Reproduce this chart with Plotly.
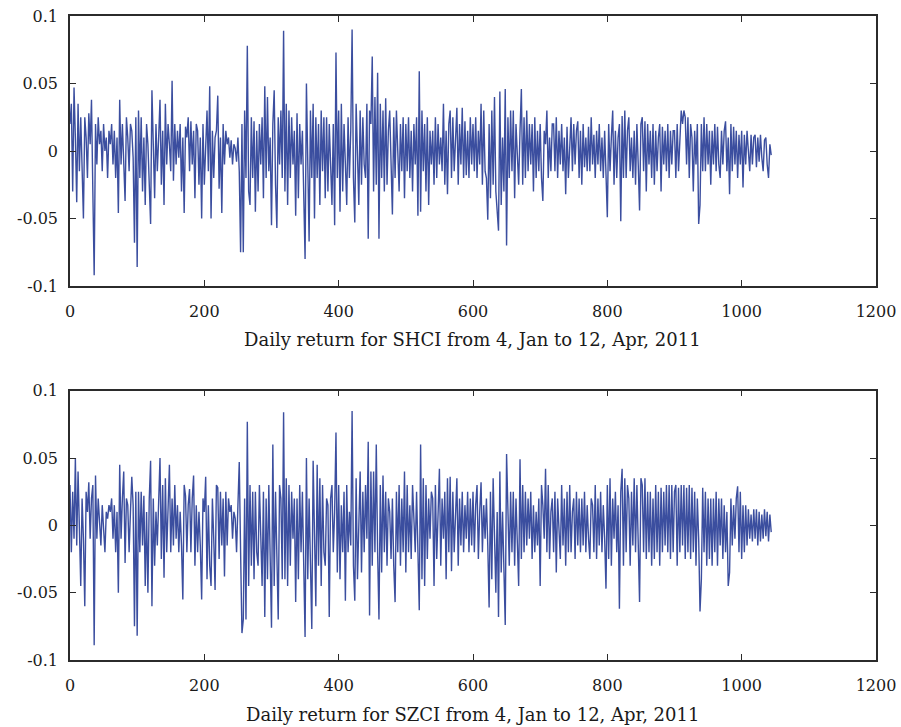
import numpy as np
import plotly.graph_objects as go

# Daily returns (in thousandths), one sample every 2 trading days
shci_milli = [
    20, 35, -30, 47, 10, -38, 35, -15, 25, -10,
    -50, 25, 10, -20, 28, 5, 38, -30, -92, 20,
    -10, 25, 5, 15, -15, 20, 0, 10, -20, 15,
    5, 20, -10, 15, -20, 10, -46, 38, -10, 20,
    -5, -37, 25, 10, -15, 20, 15, -5, -68, 25,
    -86, 30, -20, 25, -30, 10, -40, 20, 5, -25,
    -54, 45, -10, -35, 20, -15, 10, 38, -25, 15,
    -40, 35, -10, 20, 5, -15, 52, -22, 20, -10,
    15, -5, 20, -30, 10, -46, 18, 10, 25, -15,
    22, -10, 15, -35, 20, 15, -25, 10, -50, 20,
    -25, 10, 30, -15, 48, -50, 15, -20, 10, 15,
    41, -28, 10, -46, 20, -10, 15, 5, 10, -5,
    8, -10, 5, 2, -8, 10, -15, -75, 20, -75,
    30, -20, 78, -30, -40, 25, -20, 22, -45, 15,
    -30, 20, -10, 25, -35, 48, -20, 40, -15, 10,
    -55, 20, 45, -25, -57, 25, -10, 30, -20, 89,
    -30, 35, -40, 30, -20, 25, -10, 15, -48, 28,
    -35, 20, -10, 15, -25, -80, 50, -20, -67, 30,
    -20, 35, -50, 25, -20, 20, -40, 30, -15, 25,
    -35, 25, -30, 20, -10, -40, 20, -55, 73, -20,
    30, -45, 35, -30, 20, -10, -40, 25, -20, 15,
    90, -20, -53, 35, -15, -40, 30, -25, 25, -10,
    -20, 35, -65, 30, 20, 70, -30, 40, -25, 58,
    -65, 35, -20, 30, -30, 39, -25, 15, 30, -10,
    -47, 25, -20, 30, -10, -30, 20, -15, 25, -35,
    20, -15, 25, -20, 15, -30, 20, -10, 25, -48,
    59, -45, 30, -15, 20, -30, 25, -40, 15, -10,
    15, -25, 25, -20, 20, -10, 10, -15, 35, -25,
    15, -32, 20, 30, -20, 25, -15, 10, 32, -25,
    20, -10, 32, -20, 22, -18, 15, -20, 25, -10,
    20, -15, 25, -20, 15, -10, 35, -25, 30, -15,
    -20, -51, 20, -35, 30, -25, 40, -30, -45, -59,
    44, -40, 10, -30, 46, -70, 25, -20, 30, -15,
    30, -35, 20, -10, -25, 15, 46, -25, 25, -20,
    30, -15, 20, -10, 20, -30, 25, -20, 15, -15,
    20, -20, -37, 15, 5, 30, -20, 10, -15, 20,
    20, -15, 25, -20, 15, -10, 20, -15, 10, -32,
    18, -20, 10, 25, -15, 20, -10, 15, 22, -20,
    15, -25, 20, -12, 10, -15, 18, -15, 25, -10,
    12, -20, 15, -10, 20, -15, 10, -20, 15, -10,
    -49, 20, -15, 10, 30, -25, 15, -20, 10, 20,
    -52, 26, -20, 30, -20, 15, 25, -15, 10, -20,
    15, -25, 20, -10, -44, 20, 25, -15, 22, -30,
    20, -10, 15, -20, 20, -25, 15, -15, 10, 20,
    -30, 18, -10, 15, -15, 20, -20, 15, -10, 15,
    15, -20, 20, -15, 10, 30, 20, 30, 25, -10,
    25, -20, 20, 10, -30, 15, -10, 20, -54, -40,
    20, -15, 25, -15, 20, -10, 15, -25, 15, -10,
    20, -15, 18, -10, -20, 15, -10, 15, 22, -15,
    10, -32, 20, -15, 18, -10, 15, -20, 12, -10,
    15, -27, 12, -10, 15, -5, -15, 12, -10, 10,
    12, -12, 10, -8, 12, -5, -15, 8, 10, -10,
    -20, 5, -3,
]

szci_milli = [
    30, -20, 25, -10, 50, -15, 40, -5, -45, 20,
    -10, -60, 25, 10, 32, -10, 20, 30, -89, 37,
    -10, 20, 5, -15, 15, 0, -20, 10, 5, 15,
    10, 20, -10, 15, -20, 10, -50, 45, -10, 20,
    40, -28, 20, 15, -20, 10, 36, 15, -75, 25,
    -82, 25, -20, 25, -15, 22, -45, 10, -50, 20,
    48, -60, 20, -30, 10, -15, 30, 50, -25, 30,
    -39, 35, -20, 15, 45, -20, 20, -15, 30, -10,
    15, -20, 10, -15, -55, 30, 22, -20, 15, 27,
    -20, 20, 37, -30, 15, -20, 10, -15, -55, 20,
    10, 36, -40, 15, -30, -45, 20, -10, -48, 30,
    28, -25, 25, -15, 20, -38, 25, -15, 20, 10,
    15, -10, 10, 5, -20, 15, 47, -20, -80, -70,
    20, -70, 77, -45, 30, -30, 25, -40, 25, -20,
    -30, 30, -20, -45, 25, -68, 20, -40, 30, -20,
    -76, 60, -45, 25, -20, -70, 30, 20, -40, 84,
    -40, 35, -45, 30, -30, 25, -10, 20, -57, 20,
    -40, 30, -20, 25, -30, -83, 50, -40, 20, -30,
    -77, 48, -20, -60, 45, -30, 35, -45, 30, -20,
    -30, 20, 15, -68, 20, 30, -20, 10, 69, -35,
    30, -40, 15, -20, 25, -56, 30, -20, 10, -15,
    85, -30, -56, 35, -40, 10, 40, -35, 25, -20,
    30, -10, 62, -67, 40, -30, 40, -20, 60, -20,
    -70, 30, -35, 37, -20, 25, -30, 20, 10, -25,
    20, -30, -57, 25, -20, 30, -30, 20, -20, 40,
    -35, 30, -20, 15, -25, 30, 10, -20, 25, -30,
    -63, 60, -40, 35, -45, 30, -25, 20, -10, 25,
    20, -45, 30, -25, 10, 42, -30, 20, -10, 25,
    -40, 35, -20, 36, -34, 25, -20, 10, 35, -30,
    20, -15, 25, -20, 15, -10, 25, -20, 20, -15,
    25, -20, 15, 30, -25, 10, 32, -20, 15, -10,
    20, -15, -61, 25, -40, 35, -20, -50, 10, -68,
    40, -35, 10, -30, -74, 53, 20, -30, 25, -20,
    25, -30, 20, -10, -45, 49, -25, 30, -20, 25,
    -15, 20, -10, 25, -25, 15, -20, 10, -15, 20,
    -45, 30, 15, -10, 42, -20, 30, -25, 10, 20,
    -20, 25, -35, 20, -10, -25, 30, -15, 20, -30,
    25, -20, 30, -20, 10, 20, -25, 25, -15, 20,
    -20, 20, -15, 25, -20, 15, -10, -25, 20, 15,
    -20, 30, -25, 20, -15, 25, -20, 15, -10, -47,
    30, -25, 35, -30, 20, -10, 25, -20, 15, -62,
    25, 42, -30, 35, -20, 30, 20, -30, 25, -15,
    35, -20, 30, -25, -57, 35, 30, -20, 35, -25,
    25, -20, 25, -30, 20, -25, 30, -20, 25, -30,
    28, -20, 25, -15, 30, -20, 30, -25, 30, -20,
    25, 30, -30, 28, -20, 30, -15, 30, -25, 28,
    -20, 30, -25, 28, -20, 25, -30, 20, -10, -64,
    -40, 28, -20, 25, -30, 20, -25, 20, -30, 20,
    -20, 25, -30, 20, -15, 20, -25, 15, -20, 10,
    -45, -35, 20, -15, 15, -10, 20, 29, -20, 25,
    -25, 15, -20, 15, -15, 12, -10, 8, -12, 12,
    -10, 12, -15, 10, -12, 8, -10, 12, -8, 10,
    -12, 8, -5,
]

x_ticks = [0, 200, 400, 600, 800, 1000, 1200]
y_ticks = [-0.1, -0.05, 0, 0.05, 0.1]
y_tick_text = ["-0.1", "-0.05", "0", "0.05", "0.1"]
title_top = "Daily return for SHCI from 4, Jan to 12, Apr, 2011"
title_bottom = "Daily return for SZCI from 4, Jan to 12, Apr, 2011"

STEP = 2
shci = np.array(shci_milli) / 1000.0
szci = np.array(szci_milli) / 1000.0
days_shci = np.arange(len(shci)) * STEP
days_szci = np.arange(len(szci)) * STEP

W, H = 901, 727
LINE = "#3B4E9F"
FONT = "DejaVu Serif"
TXT = "#1a1a1a"


def px_x(v):
    return v / W


def px_y(v):
    return (H - v) / H


fig = go.Figure()
fig.add_trace(go.Scatter(x=days_shci, y=shci, mode="lines",
                         line=dict(color=LINE, width=1.4), xaxis="x", yaxis="y",
                         showlegend=False))
fig.add_trace(go.Scatter(x=days_szci, y=szci, mode="lines",
                         line=dict(color=LINE, width=1.4), xaxis="x2", yaxis="y2",
                         showlegend=False))

xd = [px_x(70), px_x(876)]
top_dom = [px_y(286), px_y(16)]
bot_dom = [px_y(660), px_y(390.7)]

axis_common = dict(showgrid=False, zeroline=False, showline=True, linecolor="#2b2b2b",
                   linewidth=1.5, mirror="allticks", ticks="inside", ticklen=6,
                   tickwidth=1.2, tickcolor="#2b2b2b", automargin=False,
                   tickfont=dict(family=FONT, size=16, color=TXT))

fig.update_layout(
    template="none",
    width=W, height=H, margin=dict(l=0, r=0, t=0, b=0, pad=0),
    paper_bgcolor="white", plot_bgcolor="white",
    xaxis=dict(domain=xd, range=[0, 1200], tickvals=x_ticks, anchor="y",
               ticklabelstandoff=10, **axis_common),
    yaxis=dict(domain=top_dom, range=[-0.1, 0.1], tickvals=y_ticks, ticktext=y_tick_text,
               anchor="x", ticklabelstandoff=7, **axis_common),
    xaxis2=dict(domain=xd, range=[0, 1200], tickvals=x_ticks, anchor="y2",
                ticklabelstandoff=10, **axis_common),
    yaxis2=dict(domain=bot_dom, range=[-0.1, 0.1], tickvals=y_ticks, ticktext=y_tick_text,
                anchor="x2", ticklabelstandoff=7, **axis_common),
    annotations=[
        dict(text=title_top, x=(xd[0] + xd[1]) / 2, y=px_y(340), xref="paper", yref="paper",
             yanchor="middle", showarrow=False, font=dict(family=FONT, size=18, color=TXT)),
        dict(text=title_bottom, x=(xd[0] + xd[1]) / 2, y=px_y(714), xref="paper", yref="paper",
             yanchor="middle", showarrow=False, font=dict(family=FONT, size=18, color=TXT)),
    ],
)

fig.write_html(
    "out.html",
    config={"displayModeBar": False},
    post_script="document.body.style.margin='0';document.body.style.overflow='hidden';",
)
